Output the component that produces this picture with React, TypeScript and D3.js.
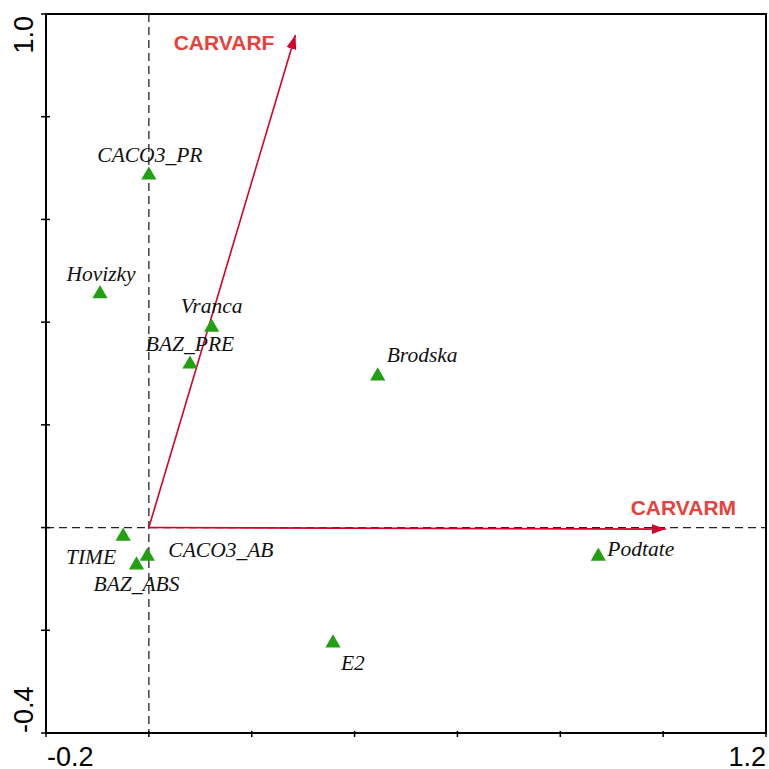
import React from 'react'
import * as d3 from 'd3'

// sample scores (triangles)
const sites = ['CACO3_PR', 'Hovizky', 'Vranca', 'BAZ_PRE', 'Brodska', 'TIME', 'CACO3_AB', 'BAZ_ABS', 'Podtate', 'E2']
const siteX = [0.0, -0.095, 0.122, 0.08, 0.445, -0.05, -0.003, -0.024, 0.874, 0.358]
const siteY = [0.688, 0.457, 0.392, 0.32, 0.297, -0.015, -0.054, -0.071, -0.054, -0.223]

// response variables (arrows)
const variables = ['CARVARF', 'CARVARM']
const varX = [0.285, 1.005]
const varY = [0.959, -0.003]

const xTicks = [-0.2, 0, 0.2, 0.4, 0.6, 0.8, 1.0, 1.2]
const yTicks = [-0.4, -0.2, 0, 0.2, 0.4, 0.6, 0.8, 1.0]
const xTickLabels = ['-0.2', '1.2']
const yTickLabels = ['-0.4', '1.0']

// label placement (pixels from the point)
const siteLabelPos: Record<string, [number, number, string]> = {
  CACO3_PR: [1, -12, 'middle'],
  Hovizky: [1, -12, 'middle'],
  Vranca: [0, -13, 'middle'],
  BAZ_PRE: [0, -12, 'middle'],
  Brodska: [9, -13, 'start'],
  TIME: [-7, 29, 'end'],
  CACO3_AB: [21, 2, 'start'],
  BAZ_ABS: [0, 27, 'middle'],
  Podtate: [9, 1, 'start'],
  E2: [8, 28, 'start'],
}
const varLabelPos: Record<string, [number, number, string]> = {
  CARVARF: [-21, 15, 'end'],
  CARVARM: [-35, -14, 'start'],
}

export default function App() {
  const left = 46, right = 766, top = 14, bottom = 733
  const x = d3.scaleLinear().domain([-0.2, 1.2]).range([left, right])
  const y = d3.scaleLinear().domain([-0.4, 1.0]).range([bottom, top])

  const green = '#22a012'
  const arrowRed = '#d8002a'
  const labelRed = '#e8413c'
  const tri = d3.symbol().type(d3.symbolTriangle).size(100)

  return (
    <svg width={769} height={769} style={{ position: 'absolute', left: 0, top: 0, background: '#fff' }}>
      <defs>
        <marker id="head" viewBox="0 0 14 10" refX="14" refY="5" markerWidth="14" markerHeight="10"
          markerUnits="userSpaceOnUse" orient="auto">
          <path d="M0,0 L14,5 L0,10 Z" fill={arrowRed} />
        </marker>
      </defs>

      {/* zero lines */}
      <line x1={x(0)} x2={x(0)} y1={top} y2={bottom} stroke="#222" strokeWidth={1.3} strokeDasharray="8,5" />
      <line x1={left} x2={right} y1={y(0)} y2={y(0)} stroke="#222" strokeWidth={1.3} strokeDasharray="8,5" />

      {/* arrows */}
      {variables.map((v, i) => {
        const tx = x(varX[i]), ty = y(varY[i])
        const [dx, dy, anchor] = varLabelPos[v]
        return (
          <g key={v}>
            <line x1={x(0)} y1={y(0)} x2={tx} y2={ty} stroke={arrowRed} strokeWidth={1.6} markerEnd="url(#head)" />
            <text x={tx + dx} y={ty + dy} textAnchor={anchor as any} fill={labelRed}
              fontFamily="Liberation Sans, Arial, sans-serif" fontWeight="bold" fontSize={21}>{v}</text>
          </g>
        )
      })}

      {/* samples */}
      {sites.map((s, i) => {
        const px = x(siteX[i]), py = y(siteY[i])
        const [dx, dy, anchor] = siteLabelPos[s]
        return (
          <g key={s}>
            <path d={tri()!} transform={`translate(${px},${py + 1})`} fill={green} />
            <text x={px + dx} y={py + dy} textAnchor={anchor as any} fill="#111"
              fontFamily="Liberation Serif, Times New Roman, serif" fontStyle="italic" fontSize={21.5}>{s}</text>
          </g>
        )
      })}

      {/* frame and ticks */}
      <rect x={left} y={top} width={right - left} height={bottom - top} fill="none" stroke="#000" strokeWidth={2} />
      {xTicks.map(t => (
        <line key={'x' + t} x1={x(t)} x2={x(t)} y1={bottom - 2} y2={bottom + 4} stroke="#000" strokeWidth={1.5} />
      ))}
      {yTicks.map(t => (
        <line key={'y' + t} x1={left - 5} x2={left + 4} y1={y(t)} y2={y(t)} stroke="#000" strokeWidth={1.5} />
      ))}
      <text x={left + 1} y={766} textAnchor="start" fontFamily="Liberation Sans, Arial, sans-serif" fontSize={27}>{xTickLabels[0]}</text>
      <text x={right} y={766} textAnchor="end" fontFamily="Liberation Sans, Arial, sans-serif" fontSize={27}>{xTickLabels[1]}</text>
      <text transform={`translate(33,${bottom}) rotate(-90)`} textAnchor="start" fontFamily="Liberation Sans, Arial, sans-serif" fontSize={27}>{yTickLabels[0]}</text>
      <text transform={`translate(33,${top + 2}) rotate(-90)`} textAnchor="end" fontFamily="Liberation Sans, Arial, sans-serif" fontSize={27}>{yTickLabels[1]}</text>
    </svg>
  )
}
